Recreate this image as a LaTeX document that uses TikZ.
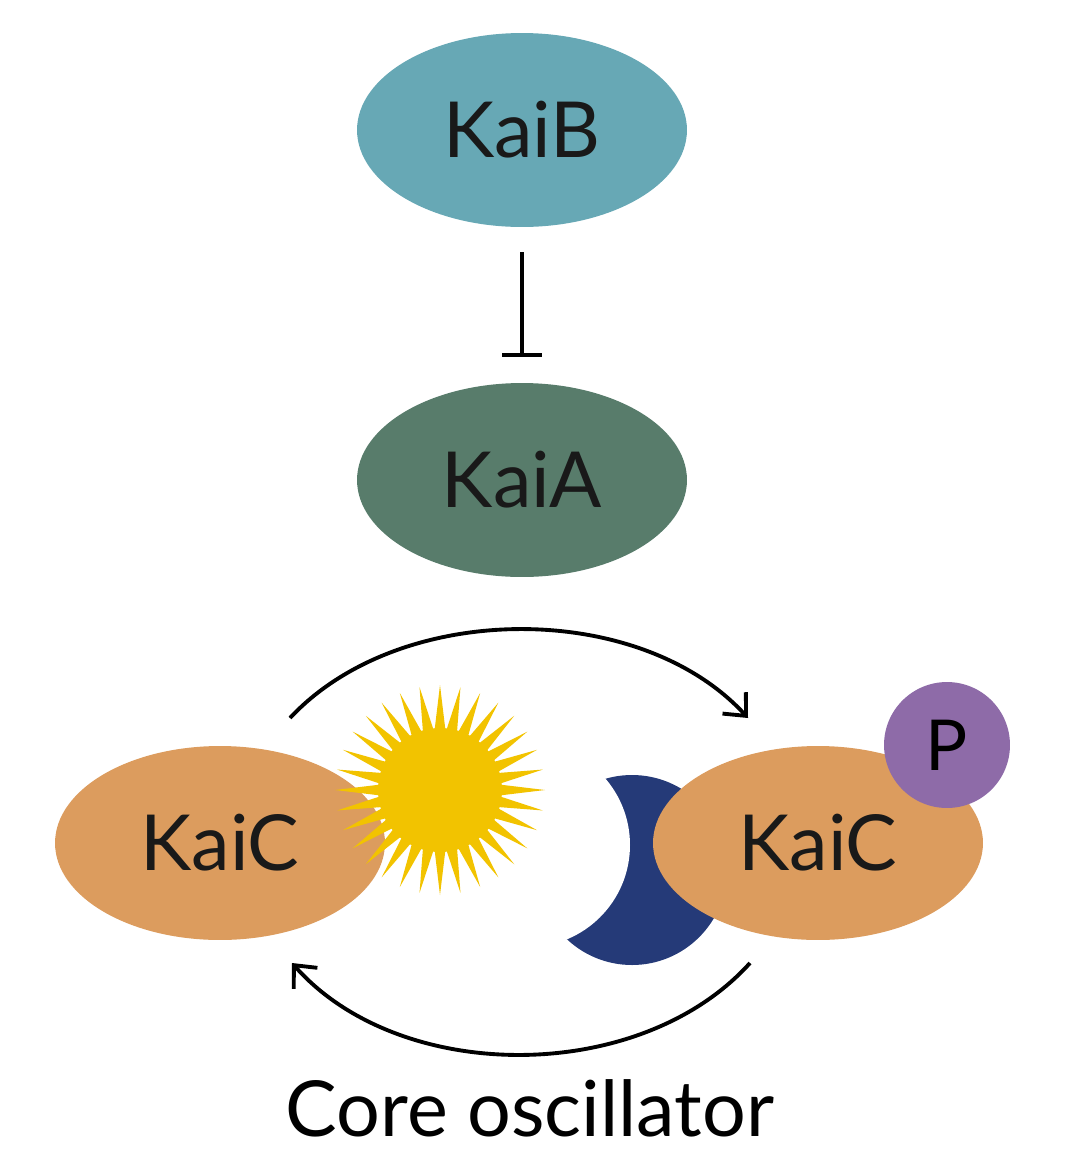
\documentclass[tikz,border=0pt]{standalone}
\usepackage{fontspec}
\setmainfont{Lato}
\usetikzlibrary{shapes.geometric,arrows.meta}
\definecolor{kaib}{HTML}{67A8B5}
\definecolor{kaia}{HTML}{587C6B}
\definecolor{kaic}{HTML}{DC9C5E}
\definecolor{sun}{HTML}{F2C300}
\definecolor{moon}{HTML}{253A78}
\definecolor{pcol}{HTML}{8E6BA8}
\begin{document}
\begin{tikzpicture}[x=0.02cm,y=-0.02cm,
  prot/.style={ellipse,minimum width=6.6cm,minimum height=3.88cm,inner sep=0pt,font=\fontsize{44}{50}\selectfont,text=black!90},
  conn/.style={line width=2.2pt,black}]
\useasboundingbox (0,0) rectangle (1080,1167);
\node[prot,fill=kaib] (B) at (522,130) {KaiB};
\node[prot,fill=kaia] (A) at (522,480) {KaiA};
\draw[conn] (522,252) coordinate (i1) -- (522,355) coordinate (i2);
\draw[conn] (502,355) -- (542,355);
% moon
\fill[moon] (632,870) circle (95);
\fill[white] (528,845) circle (102);
\node[prot,fill=kaic] (C1) at (220,843) {KaiC};
\node[prot,fill=kaic] (C2) at (818,843) {KaiC};
% sun
\fill[sun] plot[samples=65,domain=0:360,variable=\t] ({440+(mod(round(\t/5.625),2)==0 ? 105 : 58)*cos(\t)},{790+(mod(round(\t/5.625),2)==0 ? 105 : 58)*sin(\t)}) -- cycle;
\fill[sun] (440,790) circle (62);
\node[circle,fill=pcol,minimum size=2.52cm,inner sep=0pt,font=\fontsize{40}{46}\selectfont] (P) at (947,745) {P};
\coordinate (a1) at (290,718);
\coordinate (a2) at (748,718);
\draw[conn,-{Straight Barb[length=10pt,width=18pt]}] (a1) .. controls (400,600) and (640,600) .. (a2);
\coordinate (b1) at (750,963);
\coordinate (b2) at (292,963);
\draw[conn,-{Straight Barb[length=10pt,width=18pt]}] (b1) .. controls (640,1085) and (400,1085) .. (b2);
\node[font=\fontsize{44}{50}\selectfont] (T) at (530,1108) {Core oscillator};
\end{tikzpicture}
\end{document}
